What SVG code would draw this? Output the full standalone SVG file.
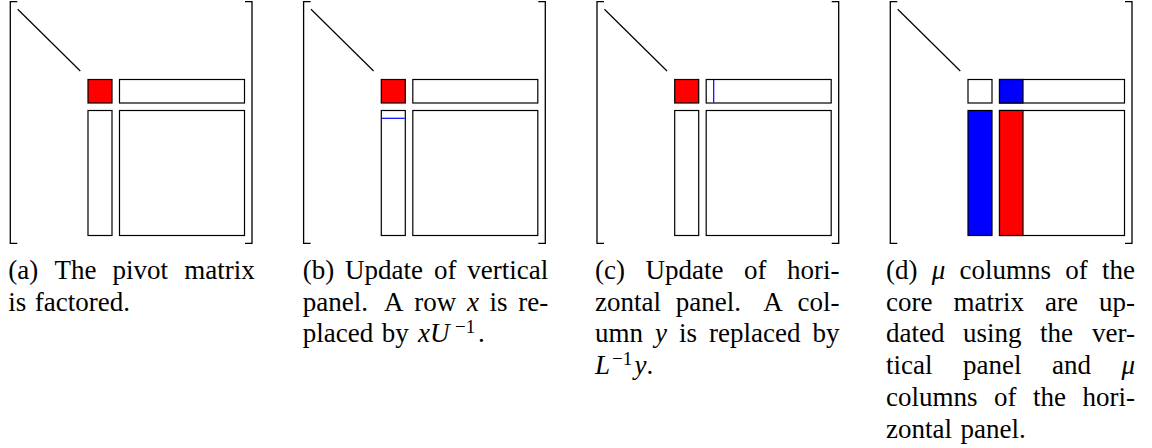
<svg xmlns="http://www.w3.org/2000/svg" width="1152" height="448" viewBox="0 0 1152 448">
<style>
.br{fill:none;stroke:#000;stroke-width:1.3}
.dg{fill:none;stroke:#000;stroke-width:1.2}
.bk{fill:#fff;stroke:#000;stroke-width:1.2}
.red{fill:#f00;stroke:#000;stroke-width:1.2}
.blue{fill:#00f;stroke:#000;stroke-width:1.2}
.bln{fill:none;stroke:#00f;stroke-width:1.2}
text{font-family:"Liberation Serif","Times New Roman",serif;font-size:27px;fill:#000}
.m{font-style:italic}
.s{font-size:19px}
</style>
<rect width="1152" height="448" fill="#fff"/>

<g id="panel-a">
  <path class="br" d="M17.3,1.7H10.3V243.3H17.3"/>
  <path class="br" d="M245,1.7H252V243.3H245"/>
  <line class="dg" x1="17.7" y1="9.3" x2="80.3" y2="71"/>
  <rect class="red" x="88" y="79.5" width="24" height="23.5"/>
  <rect class="bk" x="119.5" y="79.5" width="125" height="23.5"/>
  <rect class="bk" x="88" y="110.5" width="24" height="125"/>
  <rect class="bk" x="119.5" y="110.5" width="125" height="125"/>
</g>

<g id="panel-b" transform="translate(293.3,0)">
  <path class="br" d="M17.3,1.7H10.3V243.3H17.3"/>
  <path class="br" d="M245,1.7H252V243.3H245"/>
  <line class="dg" x1="17.7" y1="9.3" x2="80.3" y2="71"/>
  <rect class="red" x="88" y="79.5" width="24" height="23.5"/>
  <rect class="bk" x="119.5" y="79.5" width="125" height="23.5"/>
  <rect class="bk" x="88" y="110.5" width="24" height="125"/>
  <rect class="bk" x="119.5" y="110.5" width="125" height="125"/>
  <line class="bln" x1="88.6" y1="118.3" x2="111.4" y2="118.3"/>
</g>

<g id="panel-c" transform="translate(586.7,0)">
  <path class="br" d="M17.3,1.7H10.3V243.3H17.3"/>
  <path class="br" d="M245,1.7H252V243.3H245"/>
  <line class="dg" x1="17.7" y1="9.3" x2="80.3" y2="71"/>
  <rect class="red" x="88" y="79.5" width="24" height="23.5"/>
  <rect class="bk" x="119.5" y="79.5" width="125" height="23.5"/>
  <rect class="bk" x="88" y="110.5" width="24" height="125"/>
  <rect class="bk" x="119.5" y="110.5" width="125" height="125"/>
  <line class="bln" x1="127" y1="80.1" x2="127" y2="102.4"/>
</g>

<g id="panel-d" transform="translate(880,0)">
  <path class="br" d="M17.3,1.7H10.3V243.3H17.3"/>
  <path class="br" d="M245,1.7H252V243.3H245"/>
  <line class="dg" x1="17.7" y1="9.3" x2="80.3" y2="71"/>
  <rect class="bk" x="88" y="79.5" width="24" height="23.5"/>
  <rect class="bk" x="119.5" y="79.5" width="125" height="23.5"/>
  <rect class="blue" x="119.5" y="79.5" width="23.5" height="23.5"/>
  <rect class="blue" x="88" y="110.5" width="24" height="125"/>
  <rect class="bk" x="119.5" y="110.5" width="125" height="125"/>
  <rect class="red" x="119.5" y="110.5" width="23.5" height="125"/>
</g>

<g id="caption-a">
  <text y="279"><tspan x="8.3">(a)</tspan><tspan x="54.4">The</tspan><tspan x="112.6">pivot</tspan><tspan x="254.8" text-anchor="end">matrix</tspan></text>
  <text y="310.7"><tspan x="8.3">is</tspan><tspan x="34.8">factored.</tspan></text>
</g>

<g id="caption-b">
  <text y="279"><tspan x="302.7">(b)</tspan><tspan x="345.1">Update</tspan><tspan x="433.9">of</tspan><tspan x="548.3" text-anchor="end">vertical</tspan></text>
  <text y="310.7"><tspan x="302.7">panel.</tspan><tspan x="384">A</tspan><tspan x="414.2">row</tspan><tspan x="466.9" class="m">x</tspan><tspan x="489.6">is</tspan><tspan x="548.3" text-anchor="end">re-</tspan></text>
  <text y="342.4"><tspan x="302.7">placed</tspan><tspan x="381.7">by</tspan><tspan x="418" class="m">xU</tspan><tspan x="455" dy="-9.5" class="s">−1</tspan><tspan x="478" dy="9.5">.</tspan></text>
</g>

<g id="caption-c">
  <text y="279"><tspan x="595">(c)</tspan><tspan x="645.5">Update</tspan><tspan x="744">of</tspan><tspan x="839.5" text-anchor="end">hori-</tspan></text>
  <text y="310.7"><tspan x="595">zontal</tspan><tspan x="675.8">panel.</tspan><tspan x="763.2">A</tspan><tspan x="839.5" text-anchor="end">col-</tspan></text>
  <text y="342.4"><tspan x="595">umn</tspan><tspan x="655" class="m">y</tspan><tspan x="679">is</tspan><tspan x="709">replaced</tspan><tspan x="839.5" text-anchor="end">by</tspan></text>
  <text y="374.1"><tspan x="595" class="m">L</tspan><tspan x="612" dy="-9.5" class="s">−1</tspan><tspan x="634.5" dy="9.5" class="m">y</tspan><tspan>.</tspan></text>
</g>

<g id="caption-d">
  <text y="279"><tspan x="886">(d)</tspan><tspan x="931.7" class="m">μ</tspan><tspan x="959.5">columns</tspan><tspan x="1065.3">of</tspan><tspan x="1135" text-anchor="end">the</tspan></text>
  <text y="310.7"><tspan x="886">core</tspan><tspan x="953.5">matrix</tspan><tspan x="1045">are</tspan><tspan x="1135" text-anchor="end">up-</tspan></text>
  <text y="342.4"><tspan x="886">dated</tspan><tspan x="963">using</tspan><tspan x="1040">the</tspan><tspan x="1135" text-anchor="end">ver-</tspan></text>
  <text y="374.1"><tspan x="886">tical</tspan><tspan x="963">panel</tspan><tspan x="1052">and</tspan><tspan x="1135" text-anchor="end" class="m">μ</tspan></text>
  <text y="405.8"><tspan x="886">columns</tspan><tspan x="994">of</tspan><tspan x="1033">the</tspan><tspan x="1135" text-anchor="end">hori-</tspan></text>
  <text y="437.5"><tspan x="886">zontal</tspan><tspan x="960.5">panel.</tspan></text>
</g>
</svg>
